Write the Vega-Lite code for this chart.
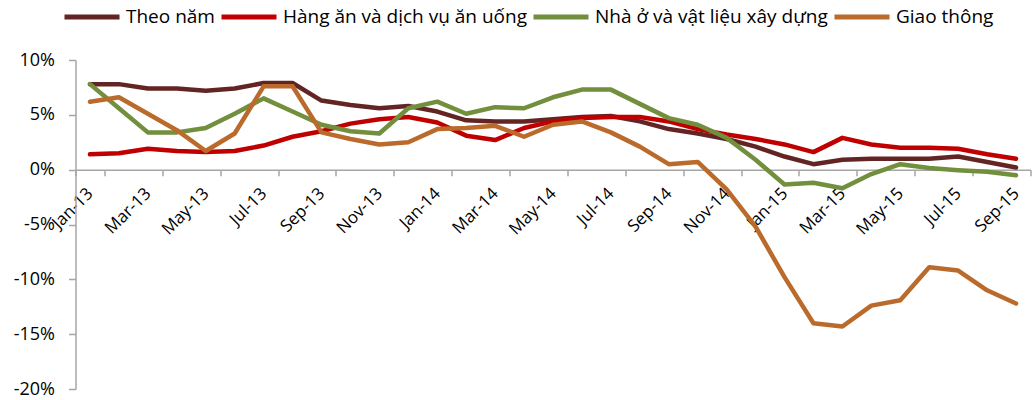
{
  "$schema": "https://vega.github.io/schema/vega-lite/v6.json",
  "autosize": {"type": "none"},
  "width": 955,
  "height": 329,
  "padding": {"left": 75.5, "top": 60, "right": 4.5, "bottom": 11},
  "config": {
    "view": {"stroke": null},
    "font": "Open Sans",
    "axis": {"labelFont": "Open Sans", "labelColor": "#000000", "grid": false},
    "legend": {"labelFont": "Open Sans"}
  },
  "data": {
    "values": [
      {"m":"Jan-13","a":7.8,"b":1.4,"c":7.8,"d":6.2},
      {"m":"Feb-13","a":7.8,"b":1.5,"c":5.6,"d":6.6},
      {"m":"Mar-13","a":7.4,"b":1.9,"c":3.4,"d":5.1},
      {"m":"Apr-13","a":7.4,"b":1.7,"c":3.4,"d":3.6},
      {"m":"May-13","a":7.2,"b":1.6,"c":3.8,"d":1.7},
      {"m":"Jun-13","a":7.4,"b":1.7,"c":5.1,"d":3.3},
      {"m":"Jul-13","a":7.9,"b":2.2,"c":6.5,"d":7.6},
      {"m":"Aug-13","a":7.9,"b":3.0,"c":5.3,"d":7.6},
      {"m":"Sep-13","a":6.3,"b":3.5,"c":4.1,"d":3.4},
      {"m":"Oct-13","a":5.9,"b":4.2,"c":3.5,"d":2.8},
      {"m":"Nov-13","a":5.6,"b":4.6,"c":3.3,"d":2.3},
      {"m":"Dec-13","a":5.8,"b":4.8,"c":5.6,"d":2.5},
      {"m":"Jan-14","a":5.3,"b":4.3,"c":6.2,"d":3.7},
      {"m":"Feb-14","a":4.5,"b":3.1,"c":5.1,"d":3.8},
      {"m":"Mar-14","a":4.4,"b":2.7,"c":5.7,"d":4.0},
      {"m":"Apr-14","a":4.4,"b":3.8,"c":5.6,"d":3.0},
      {"m":"May-14","a":4.6,"b":4.4,"c":6.6,"d":4.1},
      {"m":"Jun-14","a":4.8,"b":4.7,"c":7.3,"d":4.4},
      {"m":"Jul-14","a":4.9,"b":4.8,"c":7.3,"d":3.4},
      {"m":"Aug-14","a":4.4,"b":4.8,"c":6.0,"d":2.1},
      {"m":"Sep-14","a":3.7,"b":4.4,"c":4.7,"d":0.5},
      {"m":"Oct-14","a":3.3,"b":3.7,"c":4.1,"d":0.7},
      {"m":"Nov-14","a":2.8,"b":3.2,"c":2.9,"d":-1.8},
      {"m":"Dec-14","a":2.1,"b":2.8,"c":0.9,"d":-5.2},
      {"m":"Jan-15","a":1.2,"b":2.3,"c":-1.35,"d":-9.8},
      {"m":"Feb-15","a":0.5,"b":1.6,"c":-1.2,"d":-14.0},
      {"m":"Mar-15","a":0.9,"b":2.9,"c":-1.7,"d":-14.3},
      {"m":"Apr-15","a":1.0,"b":2.3,"c":-0.4,"d":-12.4},
      {"m":"May-15","a":1.0,"b":2.0,"c":0.5,"d":-11.9},
      {"m":"Jun-15","a":1.0,"b":2.0,"c":0.15,"d":-8.9},
      {"m":"Jul-15","a":1.2,"b":1.9,"c":-0.05,"d":-9.2},
      {"m":"Aug-15","a":0.7,"b":1.4,"c":-0.2,"d":-11.0},
      {"m":"Sep-15","a":0.2,"b":1.0,"c":-0.5,"d":-12.2}
    ]
  },
  "transform": [
    {"fold": ["a","b","c","d"], "as": ["series","value"]}
  ],
  "mark": {"type": "line", "strokeWidth": 4.5, "strokeJoin": "round", "strokeCap": "round"},
  "encoding": {
    "x": {
      "field": "m",
      "type": "ordinal",
      "scale": {"type": "band", "paddingInner": 0, "paddingOuter": 0, "domain": ["Jan-13","Feb-13","Mar-13","Apr-13","May-13","Jun-13","Jul-13","Aug-13","Sep-13","Oct-13","Nov-13","Dec-13","Jan-14","Feb-14","Mar-14","Apr-14","May-14","Jun-14","Jul-14","Aug-14","Sep-14","Oct-14","Nov-14","Dec-14","Jan-15","Feb-15","Mar-15","Apr-15","May-15","Jun-15","Jul-15","Aug-15","Sep-15"]},
      "axis": {
        "title": null,
        "orient": "bottom",
        "offset": -219.33,
        "values": ["Jan-13","Mar-13","May-13","Jul-13","Sep-13","Nov-13","Jan-14","Mar-14","May-14","Jul-14","Sep-14","Nov-14","Jan-15","Mar-15","May-15","Jul-15","Sep-15"],
        "tickBand": "extent",
        "tickSize": 6,
        "tickWidth": 1.5,
        "tickColor": "#a6a6a6",
        "domainColor": "#a6a6a6",
        "domainWidth": 1.5,
        "labelAngle": -45,
        "labelAlign": "right",
        "labelBaseline": "middle",
        "labelPadding": 15,
        "labelFontSize": 17,
        "labelOverlap": false
      }
    },
    "y": {
      "field": "value",
      "type": "quantitative",
      "scale": {"domain": [-20, 10], "nice": false, "zero": false},
      "axis": {
        "title": null,
        "values": [-20,-15,-10,-5,0,5,10],
        "labelExpr": "datum.value + '%'",
        "tickSize": 7,
        "tickWidth": 1.5,
        "tickColor": "#a6a6a6",
        "domainColor": "#a6a6a6",
        "domainWidth": 1.5,
        "labelPadding": 14,
        "labelFontSize": 18
      }
    },
    "color": {
      "field": "series",
      "type": "nominal",
      "scale": {"domain": ["a","b","c","d"], "range": ["#632523","#C00000","#718F3C","#BA6B2C"]},
      "legend": {
        "title": null,
        "orient": "none",
        "direction": "horizontal",
        "legendX": -13.5,
        "legendY": -73,
        "symbolType": "stroke",
        "symbolSize": 3025,
        "symbolStrokeWidth": 5,
        "labelFontSize": 19,
        "labelOffset": 4,
        "columnPadding": -4,
        "labelLimit": 400,
        "labelExpr": "datum.value == 'a' ? 'Theo năm' : datum.value == 'b' ? 'Hàng ăn và dịch vụ ăn uống' : datum.value == 'c' ? 'Nhà ở và vật liệu xây dựng' : 'Giao thông'"
      }
    }
  }
}
